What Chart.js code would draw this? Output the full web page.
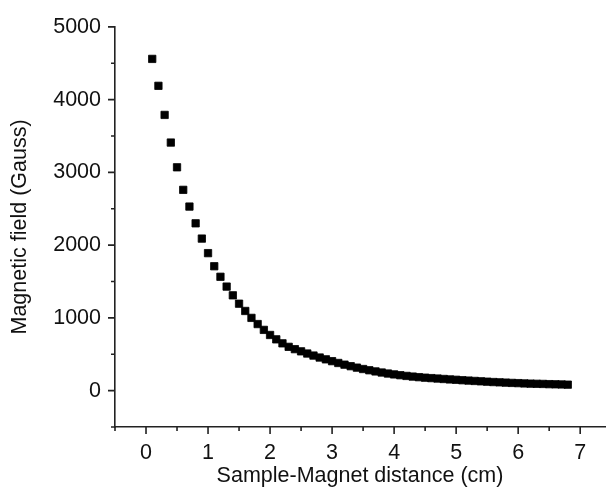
<!DOCTYPE html>
<html>
<head>
<meta charset="utf-8">
<script src="https://cdn.jsdelivr.net/npm/chart.js@4.4.1/dist/chart.umd.min.js"></script>
<style>
    html, body { margin: 0; padding: 0; background: #fff; }
    #wrap { width: 611px; height: 488px; position: relative; }
</style>
</head>
<body>
<div id="wrap"><canvas id="c"></canvas></div>
<script>
const INK = '#111111';
const AXIS = '#222222';

// 樣品與磁鐵距離 (cm)
const distances = [
    0.1, 0.2, 0.3, 0.4, 0.5, 0.6, 0.7, 0.8, 0.9, 1.0,
    1.1, 1.2, 1.3, 1.4, 1.5, 1.6, 1.7, 1.8, 1.9, 2.0,
    2.1, 2.2, 2.3, 2.4, 2.5, 2.6, 2.7, 2.8, 2.9, 3.0,
    3.1, 3.2, 3.3, 3.4, 3.5, 3.6, 3.7, 3.8, 3.9, 4.0,
    4.1, 4.2, 4.3, 4.4, 4.5, 4.6, 4.7, 4.8, 4.9, 5.0,
    5.1, 5.2, 5.3, 5.4, 5.5, 5.6, 5.7, 5.8, 5.9, 6.0,
    6.1, 6.2, 6.3, 6.4, 6.5, 6.6, 6.7, 6.8,
];
// 磁場 (Gauss)
const fieldGauss = [
    4560, 4190, 3790, 3410, 3070, 2760, 2530, 2300, 2090, 1890,
    1710, 1565, 1430, 1310, 1195, 1095, 1000, 915, 835, 765,
    705, 650, 602, 570, 540, 510, 482, 455, 430, 405,
    380, 357, 336, 316, 297, 280, 264, 249, 235, 223,
    212, 202, 193, 185, 178, 172, 166, 160, 154, 149,
    143, 138, 133, 128, 123, 118, 114, 110, 106, 103,
    99, 96, 94, 92, 89, 87, 85, 82,
];

const xTickValues = [0, 1, 2, 3, 4, 5, 6, 7];
const xMinorValues = [-0.5, 0.5, 1.5, 2.5, 3.5, 4.5, 5.5, 6.5];
const yTickValues = [0, 1000, 2000, 3000, 4000, 5000];
const yMinorValues = [-500, 500, 1500, 2500, 3500, 4500];

const FONT = { family: '"Liberation Sans", Arial, sans-serif', size: 21.5 };

// 外向刻度（主刻度／次刻度）
const outerTicks = {
    id: 'outerTicks',
    afterDraw(chart) {
        const { ctx, chartArea } = chart;
        const xs = chart.scales.x;
        const ys = chart.scales.y;
        ctx.save();
        ctx.strokeStyle = AXIS;
        ctx.lineWidth = 1.6;
        ctx.beginPath();
        const xTick = (v, len) => {
            const px = xs.getPixelForValue(v);
            ctx.moveTo(px, chartArea.bottom);
            ctx.lineTo(px, chartArea.bottom + len);
        };
        const yTick = (v, len) => {
            const py = ys.getPixelForValue(v);
            ctx.moveTo(chartArea.left, py);
            ctx.lineTo(chartArea.left - len, py);
        };
        xTickValues.forEach((v) => xTick(v, 7));
        xMinorValues.forEach((v) => xTick(v, 4));
        yTickValues.forEach((v) => yTick(v, 7));
        yMinorValues.forEach((v) => yTick(v, 4));
        ctx.stroke();
        ctx.restore();
    },
};

new Chart(document.getElementById('c'), {
    type: 'scatter',
    data: {
        datasets: [{
            data: distances.map((d, i) => ({ x: d, y: fieldGauss[i] })),
            pointStyle: 'rect',
            pointRadius: 5.2,
            pointBorderWidth: 0.8,
            backgroundColor: '#000000',
            borderColor: '#000000',
        }],
    },
    options: {
        responsive: true,
        maintainAspectRatio: false,
        animation: false,
        layout: { padding: { top: 25, right: 3, left: 0, bottom: 0 } },
        plugins: { legend: { display: false }, tooltip: { enabled: false } },
        scales: {
            x: {
                type: 'linear',
                min: -0.5,
                max: 7.4,
                afterBuildTicks: (s) => { s.ticks = xTickValues.map((v) => ({ value: v })); },
                afterFit: (s) => { s.height = 61; },
                grid: { display: false, drawTicks: false },
                border: { display: true, color: AXIS, width: 1.6 },
                ticks: { color: INK, font: FONT, padding: 13, maxRotation: 0, callback: (v) => String(v) },
                title: { display: true, text: 'Sample-Magnet distance (cm)', color: INK, font: FONT, padding: { top: 0, bottom: -1 } },
            },
            y: {
                type: 'linear',
                min: -500,
                max: 5000,
                afterBuildTicks: (s) => { s.ticks = yTickValues.map((v) => ({ value: v })); },
                afterFit: (s) => { s.width = 115; },
                grid: { display: false, drawTicks: false },
                border: { display: true, color: AXIS, width: 1.6 },
                ticks: { color: INK, font: FONT, padding: 14, callback: (v) => String(v) },
                title: { display: true, text: 'Magnetic field (Gauss)', color: INK, font: FONT, padding: { top: 7, bottom: 0 } },
            },
        },
    },
    plugins: [outerTicks],
});
</script>
</body>
</html>
